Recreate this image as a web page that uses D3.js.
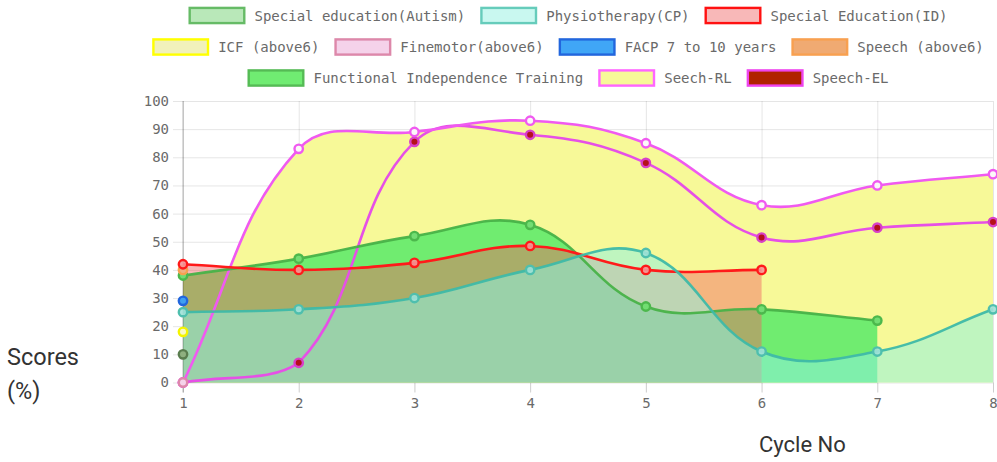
<!DOCTYPE html>
<html><head><meta charset="utf-8">
<script src="https://cdn.jsdelivr.net/npm/d3@7/dist/d3.min.js"></script>
<style>
body{margin:0;background:#fff}
svg{display:block}
</style>
</head><body>
<svg id="chart" width="997" height="462"></svg>
<script>
// ---------------- DATA ----------------
const cycles = ["1","2","3","4","5","6","7","8"];
const yTicks = [0,10,20,30,40,50,60,70,80,90,100];
const seriesNames = [
  "Special education(Autism)","Physiotherapy(CP)","Special Education(ID)",
  "ICF (above6)","Finemotor(above6)","FACP 7 to 10 years","Speech (above6)",
  "Functional Independence Training","Seech-RL","Speech-EL"
];
const autism      = [10];
const physio      = [25, 26, 30, 40, 46, 11, 11, 26];
const specialID   = [42, 40, 42.5, 48.5, 40, 40];
const icf         = [18];
const finemotor   = [0];
const facp        = [29];
const speechAbove6= [40];
const fit         = [38, 44, 52, 56, 27, 26, 22];
const speechRL    = [0, 83, 89, 93, 85, 63, 70, 74];
const speechEL    = [0, 7, 85.5, 88, 78, 51.5, 55, 57];
const legendRows  = [[0,1,2],[3,4,5,6],[7,8,9]];

// ---------------- STYLES ----------------
const values = [autism, physio, specialID, icf, finemotor, facp, speechAbove6, fit, speechRL, speechEL];
const styles = [
  {legFill:"#b9e8b9", border:"#66bb66", area:null, line:"#66bb66", pFill:"#8fb07f", pStroke:"#5a7d4e"},
  {legFill:"#c9f8f0", border:"#66ccbb", area:"rgba(142,242,227,0.53)", line:"rgba(62,185,168,0.95)", pFill:"rgba(160,225,215,0.9)", pStroke:"#4fbfae"},
  {legFill:"#f8b8b8", border:"#ff1111", area:"rgba(240,98,98,0.45)", line:"#ff1a1a", pFill:"rgba(245,150,150,0.9)", pStroke:"#ff1a1a"},
  {legFill:"#f1f1bb", border:"#ffff00", area:null, line:"#ffff00", pFill:"#f8f8c8", pStroke:"#f4f400"},
  {legFill:"#f5d2ea", border:"#dd88aa", area:null, line:"#dd88aa", pFill:"#f5d2ea", pStroke:"#dd88aa"},
  {legFill:"#40a6f6", border:"#2266dd", area:null, line:"#2266dd", pFill:"#40a0f0", pStroke:"#2266dd"},
  {legFill:"#f0aa72", border:"#f8a050", area:null, line:"#f8a050", pFill:"#f0b080", pStroke:"#f8a050"},
  {legFill:"#70ec72", border:"#55bb55", area:"rgb(112,236,112)", line:"rgba(72,178,72,0.95)", pFill:"#72dd72", pStroke:"#4cb84c"},
  {legFill:"#f7f998", border:"#ff66ff", area:"rgb(247,249,152)", line:"#f05af0", pFill:"#fbf8f8", pStroke:"#f05af0"},
  {legFill:"#b02200", border:"#ee44ee", area:null, line:"#e650e6", pFill:"#b5101a", pStroke:"#d840c8"}
];

// ---------------- LAYOUT ----------------
const svg = d3.select("#chart");
const area = {l:183, r:993, t:101, b:382.5};
const x = d3.scalePoint().domain(cycles).range([area.l, area.r]).padding(0);
const y = d3.scaleLinear().domain([0,100]).range([area.b, area.t]);
const fontMono = "'DejaVu Sans Mono', monospace";

// grid
const g = svg.append("g");
g.append("g").attr("transform",`translate(${area.l},0)`)
  .call(d3.axisLeft(y).tickValues(yTicks).tickSize(-(area.r-area.l)).tickFormat(""))
  .call(s=>{s.select(".domain").remove(); s.selectAll("line").attr("stroke","rgba(0,0,0,0.1)");});
g.append("g").attr("transform",`translate(0,${area.t})`)
  .call(d3.axisTop(x).tickSize(-(area.b-area.t+10)).tickFormat(""))
  .call(s=>{s.select(".domain").remove(); s.selectAll("line").attr("stroke","rgba(0,0,0,0.1)");});

// y axis ticks + labels
const yAx = svg.append("g").attr("transform",`translate(${area.l},0)`)
  .call(d3.axisLeft(y).tickValues(yTicks).tickSize(10).tickPadding(4));
yAx.select(".domain").remove();
yAx.selectAll("line").attr("stroke","rgba(0,0,0,0.1)");
yAx.selectAll("text").attr("fill","#6a6a6a").attr("font-family",fontMono).attr("font-size","14px");

const xAx = svg.append("g").attr("transform",`translate(0,${area.b})`)
  .call(d3.axisBottom(x).tickSize(10).tickPadding(6));
xAx.select(".domain").remove();
xAx.selectAll("line").attr("stroke","rgba(0,0,0,0.1)");
xAx.selectAll("text").attr("fill","#6a6a6a").attr("font-family",fontMono).attr("font-size","14px");

// spline like Chart.js (tension 0.4, capped)
function splinePath(pts, t, closeToZero) {
  const cap=(v,a,b)=>Math.max(a,Math.min(b,v));
  const cps = pts.map((p,i)=>{
    const prev = pts[i-1]||p, next = pts[i+1]||p;
    const d01 = Math.hypot(p.x-prev.x,p.y-prev.y), d12 = Math.hypot(next.x-p.x,next.y-p.y);
    let s01 = d01/(d01+d12), s12 = d12/(d01+d12);
    if(!isFinite(s01)) s01=0; if(!isFinite(s12)) s12=0;
    const fa=t*s01, fb=t*s12;
    return {
      px:cap(p.x-fa*(next.x-prev.x),area.l,area.r), py:cap(p.y-fa*(next.y-prev.y),area.t,area.b),
      nx:cap(p.x+fb*(next.x-prev.x),area.l,area.r), ny:cap(p.y+fb*(next.y-prev.y),area.t,area.b)
    };
  });
  const path = d3.path();
  path.moveTo(pts[0].x, pts[0].y);
  for(let i=1;i<pts.length;i++) path.bezierCurveTo(cps[i-1].nx,cps[i-1].ny,cps[i].px,cps[i].py,pts[i].x,pts[i].y);
  if(closeToZero){
    path.lineTo(pts[pts.length-1].x, y(0));
    path.lineTo(pts[0].x, y(0));
    path.closePath();
  }
  return path.toString();
}

const ptsOf = vals => vals.map((v,i)=>({x:x(cycles[i]), y:y(v)}));
const order = d3.range(values.length).reverse();
const plot = svg.append("g");

// fills (last dataset first)
order.forEach(i=>{
  const st=styles[i], vals=values[i];
  if(st.area && vals.length>1)
    plot.append("path").attr("d",splinePath(ptsOf(vals),0.4,true)).attr("fill",st.area).attr("stroke","none");
});
// left axis line on top of fills
svg.append("line").attr("x1",area.l).attr("x2",area.l).attr("y1",area.t).attr("y2",area.b+10)
  .attr("stroke","rgba(0,0,0,0.28)");
// lines + points
const marks = svg.append("g");
order.forEach(i=>{
  const st=styles[i], vals=values[i], pts=ptsOf(vals);
  if(vals.length>1)
    marks.append("path").attr("d",splinePath(pts,0.4,false)).attr("fill","none")
      .attr("stroke",st.line).attr("stroke-width",2.6);
  marks.selectAll(null).data(pts).enter().append("circle")
    .attr("cx",d=>d.x).attr("cy",d=>d.y).attr("r",4.2)
    .attr("fill",st.pFill).attr("stroke",st.pStroke).attr("stroke-width",2.4);
});

// legend
const leg = svg.append("g");
const rowY = [15.5, 47, 78];
legendRows.forEach((row,ri)=>{
  const items = row.map(i=>{
    const t = leg.append("text").text(seriesNames[i]).attr("font-family",fontMono)
      .attr("font-size","14px").attr("fill","#6a6a6a").attr("dominant-baseline","central");
    return {i, t, w:t.node().getComputedTextLength()};
  });
  const boxW=57, gapBT=9, gapItem=15;
  const total = d3.sum(items,d=>boxW+gapBT+d.w) + gapItem*(items.length-1);
  let cx = 568 - total/2;
  items.forEach(it=>{
    const st=styles[it.i];
    leg.append("rect").attr("x",cx+1.2).attr("y",rowY[ri]-7.6).attr("width",boxW-2.4).attr("height",15.2)
      .attr("fill",st.legFill).attr("stroke",st.border).attr("stroke-width",2.4);
    it.t.attr("x",cx+boxW+gapBT).attr("y",rowY[ri]);
    cx += boxW+gapBT+it.w+gapItem;
  });
});

// axis titles
svg.append("text").attr("x",7).attr("y",365).text("Scores")
  .attr("font-family","Roboto, sans-serif").attr("font-size","23.5px").attr("fill","#333");
svg.append("text").attr("x",7).attr("y",399).text("(%)")
  .attr("font-family","Roboto, sans-serif").attr("font-size","23.5px").attr("fill","#333");
svg.append("text").attr("x",759).attr("y",452).text("Cycle No")
  .attr("font-family","Roboto, sans-serif").attr("font-size","22px").attr("fill","#333");
</script>
</body></html>
